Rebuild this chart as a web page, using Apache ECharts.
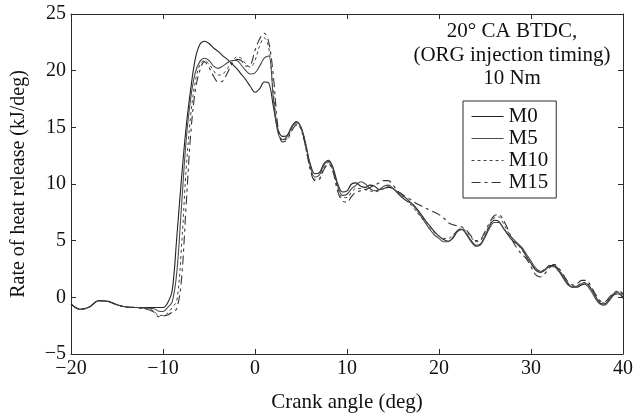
<!DOCTYPE html>
<html>
<head>
<meta charset="utf-8">
<script src="https://cdn.jsdelivr.net/npm/echarts@6/dist/echarts.min.js"></script>
<style>html,body{margin:0;padding:0;background:#fff}#c{width:636px;height:420px}</style>
</head>
<body>
<div id="c"></div>
<script>
const seriesNames = ['M0', 'M5', 'M10', 'M15'];
const crankAngle = [-20,-19,-18,-17,-16,-15,-14,-13,-12,-11,
 -10.5,-10,-9.5,-9,-8.5,-8,-7.5,-7,-6.5,-6,-5.5,-5,-4.5,-4,-3.5,-3,-2.5,-2,-1.5,-1,-0.5,0,
 0.5,1,1.5,2,2.5,3,3.5,4,4.5,5,5.5,6,6.5,7,7.5,8,8.5,9,9.5,10,
 10.5,11,11.5,12,12.5,13,13.5,14,14.5,15,15.5,16,16.5,17,17.5,18,18.5,19,19.5,20,
 20.5,21,21.5,22,22.5,23,23.5,24,24.5,25,25.5,26,26.5,27,27.5,28,28.5,29,29.5,30,
 30.5,31,31.5,32,32.5,33,33.5,34,34.5,35,35.5,36,36.5,37,37.5,38,38.5,39,39.5,40];

const m0 = [-0.6,-1.05,-0.85,-0.3,-0.35,-0.65,-0.85,-0.9,-0.9,-0.9,
 -0.9,-0.9,-0.5,0.6,5.3,10.4,14.9,18.3,21.0,22.3,22.6,22.4,22.0,21.7,21.3,21.0,20.6,20.2,19.7,19.2,18.6,18.1,
 18.4,19.0,18.9,16.8,14.8,14.2,14.3,15.1,15.5,15.0,13.5,11.8,10.9,11.0,11.8,12.1,11.4,10.0,9.3,9.4,
 10.0,10.1,9.8,9.7,9.9,9.8,9.5,9.6,9.7,9.6,9.2,8.8,8.5,8.3,7.9,7.4,6.8,6.3,5.8,5.4,
 5.1,4.95,5.2,5.8,6.0,5.6,5.0,4.6,4.7,5.4,6.3,6.8,6.7,6.1,5.5,5.0,4.7,4.3,3.6,3.0,
 2.4,2.2,2.4,2.8,2.8,2.4,1.8,1.2,0.9,0.9,1.1,1.2,0.8,0.1,-0.5,-0.6,-0.2,0.3,0.4,0.0];

const m5 = [-0.6,-1.05,-0.85,-0.3,-0.35,-0.65,-0.85,-0.9,-0.95,-1.0,
 -1.2,-1.25,-0.9,-0.4,2.2,7.9,13.7,17.5,19.8,20.8,21.1,20.9,20.4,20.2,20.4,20.7,20.9,20.9,20.5,20.0,19.7,19.8,
 20.4,21.1,21.3,17.5,14.5,13.9,14.2,15.0,15.4,15.0,13.6,11.6,10.6,10.8,11.7,12.0,11.3,9.8,9.0,9.1,
 9.6,9.9,10.2,10.0,9.6,9.4,9.5,9.8,9.9,9.6,9.3,9.0,8.7,8.3,7.8,7.2,6.6,6.0,5.5,5.2,
 4.9,4.9,5.3,5.9,6.0,5.5,4.9,4.5,4.6,5.3,6.1,6.6,6.6,6.1,5.6,5.2,4.8,4.4,3.8,3.2,
 2.6,2.3,2.4,2.7,2.7,2.3,1.7,1.1,0.9,1.0,1.2,1.1,0.6,-0.1,-0.6,-0.7,-0.3,0.2,0.3,-0.1];

const m10 = [-0.6,-1.05,-0.85,-0.3,-0.35,-0.65,-0.85,-0.9,-1.0,-1.2,
 -1.6,-1.6,-1.4,-0.9,-0.3,4.3,11.1,16.0,19.0,20.5,20.9,20.6,20.0,19.6,19.7,20.2,20.8,21.2,21.1,20.6,20.3,20.9,
 22.2,22.9,22.0,18.0,14.8,13.9,14.0,14.9,15.3,14.8,13.2,11.4,10.4,10.5,11.5,11.9,11.1,9.6,8.8,8.8,
 9.3,9.6,9.6,9.5,9.4,9.3,9.4,9.6,9.8,9.6,9.3,8.9,8.5,8.1,7.6,7.1,6.6,6.1,5.7,5.4,
 5.2,5.2,5.5,5.9,6.1,5.8,5.3,4.9,5.0,5.6,6.4,7.0,7.1,6.5,5.8,5.2,4.7,4.2,3.6,3.0,
 2.5,2.3,2.5,2.8,2.9,2.5,1.9,1.3,1.0,1.0,1.3,1.3,0.8,0.1,-0.4,-0.5,-0.1,0.4,0.5,0.2];

const m15 = [-0.6,-1.05,-0.85,-0.3,-0.35,-0.65,-0.85,-0.9,-1.0,-1.3,
 -1.7,-1.65,-1.55,-1.3,-1.0,1.5,7.9,14.3,18.2,20.0,20.8,20.3,19.5,19.0,19.1,19.8,20.6,21.0,20.9,20.4,20.5,21.8,
 22.8,23.3,22.5,19.5,15.0,13.7,13.9,14.7,15.2,14.9,13.3,11.3,10.3,10.4,11.3,11.8,11.0,9.3,8.5,8.4,
 8.9,9.3,9.4,9.5,9.7,9.9,10.1,10.3,10.3,9.9,9.4,9.1,8.8,8.6,8.3,8.1,7.9,7.7,7.5,7.3,
 7.0,6.6,6.4,6.3,6.2,5.9,5.4,5.0,5.1,5.8,6.6,7.2,7.3,6.8,6.0,5.0,4.3,3.8,3.4,2.7,
 2.0,1.8,2.1,2.6,2.9,2.6,2.0,1.4,1.1,1.2,1.5,1.5,1.0,0.3,-0.3,-0.4,0.0,0.4,0.6,0.3];

const xTicks = [-20, -10, 0, 10, 20, 30, 40];
const yTicks = [-5, 0, 5, 10, 15, 20, 25];
const annotationLines = ['20° CA BTDC,', '(ORG injection timing)', '10 Nm'];

const values = [m0, m5, m10, m15];
const FONT = 'Liberation Serif';
const INK = '#2b2b2b';
const lineStyles = [
  { color: '#222', width: 1.1, type: 'solid' },
  { color: '#4a4a4a', width: 1.1, type: 'solid' },
  { color: '#444', width: 1, type: [3, 3] },
  { color: '#333', width: 1.1, type: [9, 4, 3, 4] }
];
const minus = v => String(v).replace('-', '\u2212');

const chart = echarts.init(document.getElementById('c'), null, { renderer: 'canvas' });
const axisCommon = {
  axisLine: { show: true, onZero: false, lineStyle: { color: INK, width: 1 } },
  axisTick: { show: true, inside: true, length: 5, lineStyle: { color: INK } },
  splitLine: { show: false }
};
chart.setOption({
  animation: false,
  backgroundColor: '#fff',
  grid: { left: 71, right: 11, top: 14, bottom: 66, containLabel: false },
  legend: {
    show: true,
    orient: 'vertical',
    left: 463, top: 101,
    data: seriesNames,
    itemWidth: 32, itemHeight: 12, itemGap: 1,
    padding: [5, 8, 5, 8],
    borderColor: INK, borderWidth: 1,
    itemStyle: { opacity: 0 },
    lineStyle: { width: 1.1 },
    textStyle: { fontFamily: FONT, fontSize: 21, color: '#111' }
  },
  graphic: [{
    type: 'text',
    style: {
      text: annotationLines.join('\n'),
      x: 512, y: 20, textAlign: 'center', textVerticalAlign: 'top',
      font: '21px "Liberation Serif"', lineHeight: 23.5, fill: '#111'
    }
  }],
  xAxis: [{
    type: 'value', min: xTicks[0], max: xTicks[xTicks.length - 1], interval: 10,
    name: 'Crank angle (deg)', nameLocation: 'middle', nameGap: 38,
    nameTextStyle: { fontFamily: FONT, fontSize: 21, color: '#111' },
    axisLabel: { fontFamily: FONT, fontSize: 20, color: '#111', margin: 5, formatter: minus },
    ...axisCommon
  }, {
    type: 'value', position: 'top', min: xTicks[0], max: xTicks[xTicks.length - 1], interval: 10,
    axisLabel: { show: false }, ...axisCommon
  }],
  yAxis: [{
    type: 'value', min: yTicks[0], max: yTicks[yTicks.length - 1], interval: 5,
    name: 'Rate of heat release (kJ/deg)', nameLocation: 'middle', nameGap: 42,
    nameTextStyle: { fontFamily: FONT, fontSize: 20, color: '#111' },
    axisLabel: { fontFamily: FONT, fontSize: 20, color: '#111', margin: 5, formatter: minus },
    ...axisCommon
  }, {
    type: 'value', position: 'right', min: yTicks[0], max: yTicks[yTicks.length - 1], interval: 5,
    axisLabel: { show: false }, ...axisCommon
  }],
  series: seriesNames.map((n, i) => ({
    name: n, type: 'line', showSymbol: false, symbol: 'none', smooth: 0.35,
    xAxisIndex: 0, yAxisIndex: 0,
    lineStyle: lineStyles[i], itemStyle: { color: lineStyles[i].color },
    data: crankAngle.map((x, k) => [x, values[i][k]])
  }))
});
</script>
</body>
</html>
